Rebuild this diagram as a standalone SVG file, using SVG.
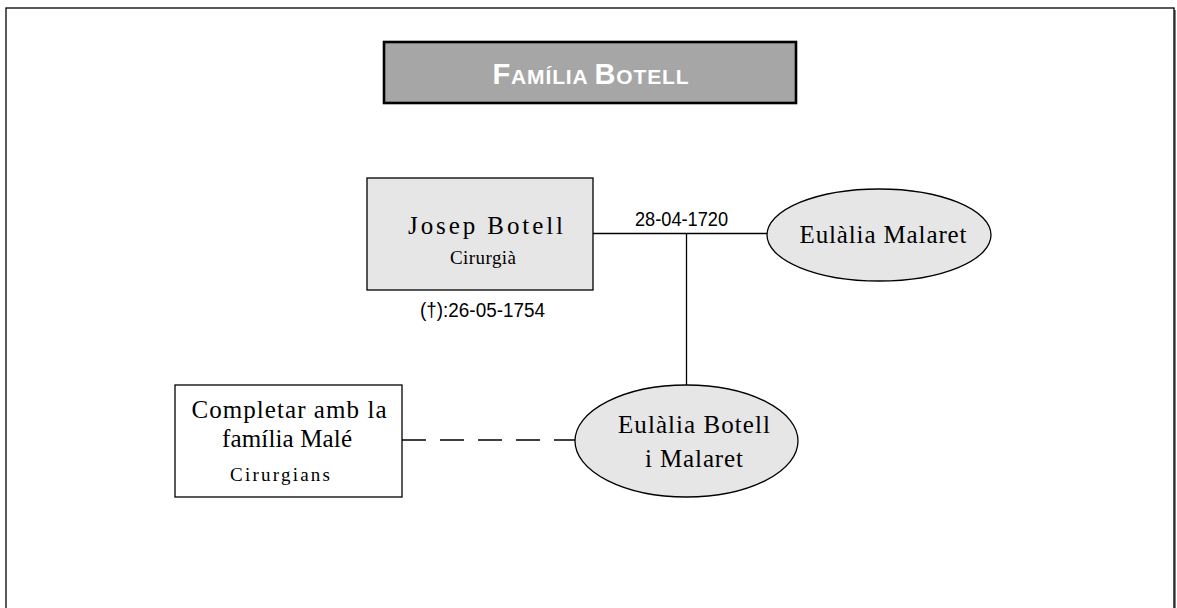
<svg xmlns="http://www.w3.org/2000/svg" width="1177" height="608" viewBox="0 0 1177 608">
<style>
.frame{fill:#ffffff;stroke:#000;stroke-width:1.3}
.shadow{fill:#808080;stroke:none}
.title{fill:#a6a6a6;stroke:#000;stroke-width:2.6}
.ttl{font-family:"Liberation Sans",Arial,sans-serif;font-weight:bold;fill:#ffffff}
.box{fill:#e6e6e6;stroke:#000;stroke-width:1.3}
.boxw{fill:#ffffff;stroke:#000;stroke-width:1.3}
.ell{fill:#e6e6e6;stroke:#000;stroke-width:1.3}
.nm{font-family:"Liberation Serif","Times New Roman",serif;font-size:25px;fill:#000;text-anchor:middle}
.sub{font-family:"Liberation Serif","Times New Roman",serif;font-size:19px;fill:#000;text-anchor:middle}
.dt{font-family:"Liberation Sans",Arial,sans-serif;font-size:20px;fill:#000;text-anchor:middle}
.ln{stroke:#000;stroke-width:1.3;fill:none}
.dash{stroke:#000;stroke-width:1.3;fill:none;stroke-dasharray:24 14}
</style>
<rect class="shadow" x="8" y="10" width="1168" height="610"/>
<rect class="frame" x="6" y="8" width="1168" height="610"/>

<g id="title">
<rect class="title" x="384" y="42" width="412" height="61"/>
<text class="ttl" x="590.5" y="83.5" text-anchor="middle" textLength="196"><tspan font-size="29">F</tspan><tspan font-size="21">AMÍLIA </tspan><tspan font-size="29">B</tspan><tspan font-size="21">OTELL</tspan></text>
</g>

<g id="connectors">
<line class="ln" x1="593" y1="233.5" x2="767" y2="233.5"/>
<line class="ln" x1="686.5" y1="233.5" x2="686.5" y2="385"/>
<line class="dash" x1="402" y1="440" x2="575" y2="440"/>
<text class="dt" x="681.5" y="226" textLength="93" lengthAdjust="spacingAndGlyphs">28-04-1720</text>
</g>

<g id="josep">
<rect class="box" x="367" y="178" width="226" height="112"/>
<text class="nm" x="485.5" y="234" textLength="155">Josep Botell</text>
<text class="sub" x="483" y="264" textLength="66">Cirurgià</text>
<text class="dt" x="482.5" y="317" font-size="19" textLength="125" lengthAdjust="spacingAndGlyphs">(†):26-05-1754</text>
</g>

<g id="eulalia-malaret">
<ellipse class="ell" cx="879" cy="235" rx="112" ry="46"/>
<text class="nm" x="883" y="243" textLength="167">Eulàlia Malaret</text>
</g>

<g id="eulalia-botell">
<ellipse class="ell" cx="686.5" cy="441" rx="111.5" ry="56"/>
<text class="nm" x="694" y="433" textLength="152">Eulàlia Botell</text>
<text class="nm" x="694" y="467" textLength="98">i Malaret</text>
</g>

<g id="male">
<rect class="boxw" x="175" y="385" width="227" height="112"/>
<text class="nm" x="289" y="418" textLength="195">Completar amb la</text>
<text class="nm" x="287" y="447" textLength="130">família Malé</text>
<text class="sub" x="280" y="481" textLength="100">Cirurgians</text>
</g>
</svg>
